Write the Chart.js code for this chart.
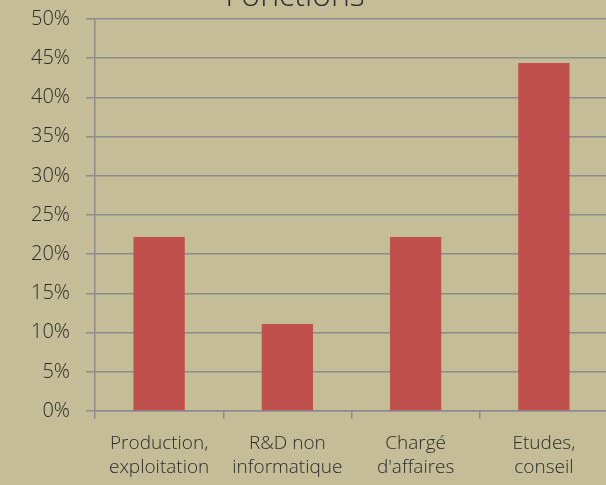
<!DOCTYPE html>
<html>
<head>
<meta charset="utf-8">
<script src="https://cdn.jsdelivr.net/npm/chart.js@4/dist/chart.umd.min.js"></script>
<style>
  html, body { margin: 0; padding: 0; width: 606px; height: 485px; overflow: hidden; background: #c4bd97; }
  #wrap { position: absolute; left: 0; top: 0; width: 612px; height: 485px; }
</style>
</head>
<body>
<div id="wrap"><canvas id="chart" width="612" height="485"></canvas></div>
<script>
const chartTitle = 'Fonctions';
const categories = [
    ['Production,', 'exploitation'],
    ['R&D non', 'informatique'],
    ['Chargé', "d'affaires"],
    ['Etudes,', 'conseil']
];
const shares = [22.2, 11.1, 22.2, 44.4];
const yMax = 50;
const yStep = 5;

const fontFamily = "'Open Sans', 'Noto Sans', sans-serif";
const textColor = '#2b2b2b';
const lineColor = '#8c8c8c';

// Title sits mostly above the visible area, only its lower half shows
const titlePlugin = {
    id: 'topTitle',
    afterDraw(chart) {
        const ctx = chart.ctx;
        ctx.save();
        ctx.font = `300 32px ${fontFamily}`;
        ctx.fillStyle = textColor;
        ctx.textAlign = 'center';
        ctx.textBaseline = 'alphabetic';
        ctx.fillText(chartTitle, 295, 6);
        ctx.restore();
    }
};

const ctx = document.getElementById('chart').getContext('2d');
new Chart(ctx, {
    type: 'bar',
    data: {
        labels: categories,
        datasets: [{
            data: shares,
            backgroundColor: '#c0504d',
            categoryPercentage: 1,
            barPercentage: 0.4
        }]
    },
    options: {
        responsive: false,
        animation: false,
        layout: { padding: { top: 19, right: 4, bottom: 0, left: 0 } },
        plugins: {
            legend: { display: false },
            tooltip: { enabled: false }
        },
        scales: {
            x: {
                afterFit(scale) { scale.height = 74; },
                grid: { drawOnChartArea: false, tickLength: 8, color: lineColor, lineWidth: 1.5 },
                border: { color: lineColor, width: 1.5 },
                ticks: {
                    color: textColor,
                    padding: 12,
                    maxRotation: 0,
                    font: { family: fontFamily, size: 19, weight: 300, lineHeight: 1.3 }
                }
            },
            y: {
                min: 0,
                max: yMax,
                afterFit(scale) {
                    scale.width = 95;
                    // let the top label overhang into the layout padding
                    scale.paddingTop = 0;
                    scale.paddingBottom = 0;
                },
                grid: { color: lineColor, lineWidth: 1.5, tickLength: 9 },
                border: { color: lineColor, width: 1.5 },
                ticks: {
                    stepSize: yStep,
                    color: textColor,
                    padding: 16,
                    font: { family: fontFamily, size: 20, weight: 300 },
                    callback: v => v + '%'
                }
            }
        }
    },
    plugins: [titlePlugin]
});
</script>
</body>
</html>
